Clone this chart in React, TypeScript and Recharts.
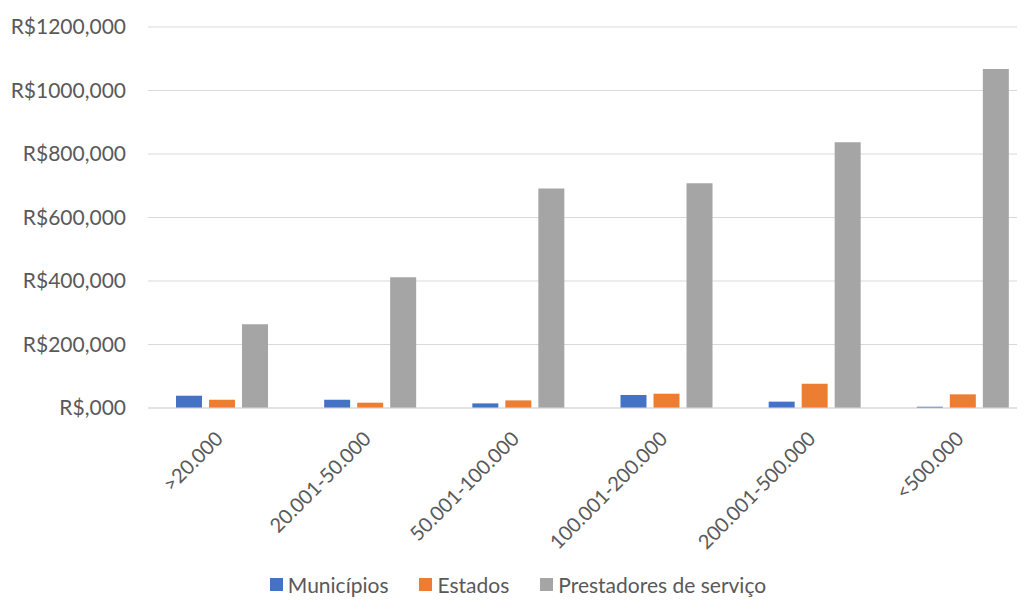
import React from 'react';
import { BarChart, Bar, XAxis, YAxis, CartesianGrid, Legend } from 'recharts';

const categories = ['>20.000', '20.001-50.000', '50.001-100.000', '100.001-200.000', '200.001-500.000', '<500.000'];
const municipios = [38.7, 26, 14.5, 41, 20, 4];
const estados = [26, 16.7, 24, 45, 76.4, 43];
const prestadores = [264, 412, 691, 708, 837, 1068];
const yTicks = [0, 200, 400, 600, 800, 1000, 1200];
const yTickLabels = ['R$,000', 'R$200,000', 'R$400,000', 'R$600,000', 'R$800,000', 'R$1000,000', 'R$1200,000'];
const seriesNames = ['Municípios', 'Estados', 'Prestadores de serviço'];

const data = categories.map((c, i) => ({
  name: c,
  m: municipios[i],
  e: estados[i],
  p: prestadores[i],
}));

const FONT = 'Lato, sans-serif';
const TEXT = '#595959';

const renderLegend = (props: any) => {
  const payload = [...(props.payload || [])].sort(
    (a: any, b: any) => seriesNames.indexOf(a.value) - seriesNames.indexOf(b.value)
  );
  return (
    <div style={{ display: 'flex', justifyContent: 'center', alignItems: 'center', fontFamily: FONT, fontSize: 21, color: TEXT, height: 30 }}>
      {payload.map((entry: any, i: number) => (
        <div key={i} style={{ display: 'flex', alignItems: 'center', marginLeft: i === 0 ? 0 : 31 }}>
          <span style={{ display: 'inline-block', width: 13, height: 13, background: entry.color, marginRight: 5 }} />
          <span>{entry.value}</span>
        </div>
      ))}
    </div>
  );
};

const XTick = (props: any) => {
  const { x, y, payload } = props;
  return (
    <g transform={`translate(${x - 8},${y})`}>
      <text
        transform="rotate(-45)"
        textAnchor="end"
        dy="0.71em"
        fill={TEXT}
        fontFamily={FONT}
        fontSize={20}
      >
        {payload.value}
      </text>
    </g>
  );
};

export default function App() {
  return (
    <div style={{ width: 1017, height: 604, overflow: 'hidden' }}>
      <BarChart
        width={1040}
        height={604}
        data={data}
        margin={{ top: 19, right: 11, left: 0, bottom: 0 }}
        barSize={26}
        barGap={7}
      >
        <CartesianGrid vertical={false} stroke="#D9D9D9" strokeWidth={1.2} />
        <XAxis
          dataKey="name"
          height={174}
          interval={0}
          axisLine={{ stroke: '#D9D9D9', strokeWidth: 1.2 }}
          tickLine={false}
          tickSize={0}
          tickMargin={22}
          tick={<XTick />}
        />
        <YAxis
          width={140}
          domain={[0, 1200]}
          ticks={yTicks}
          interval={0}
          axisLine={false}
          tickLine={false}
          tickSize={0}
          tickMargin={22}
          tickFormatter={(v: number) => yTickLabels[yTicks.indexOf(v)]}
          tick={{ fill: TEXT, fontFamily: FONT, fontSize: 21 }}
        />
        <Legend
          verticalAlign="bottom"
          content={renderLegend}
          wrapperStyle={{ left: 0, width: 1020, height: 30, top: 561 }}
        />
        <Bar dataKey="m" name={seriesNames[0]} fill="#4472C4" isAnimationActive={false} />
        <Bar dataKey="e" name={seriesNames[1]} fill="#ED7D31" isAnimationActive={false} />
        <Bar dataKey="p" name={seriesNames[2]} fill="#A5A5A5" isAnimationActive={false} />
      </BarChart>
    </div>
  );
}
